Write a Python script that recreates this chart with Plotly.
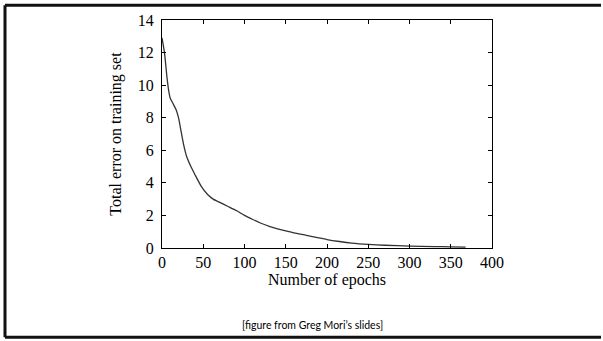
import plotly.graph_objects as go

epochs = [0, 3, 6, 8, 10, 13, 17, 20, 23, 26, 30, 35, 40, 48, 55, 62, 70, 80, 90,
          100, 110, 120, 130, 140, 150, 160, 175, 190, 200, 215, 230, 250, 270,
          300, 330, 350, 368]
error = [12.9, 12.0, 10.5, 9.7, 9.2, 8.9, 8.5, 8.0, 7.2, 6.4, 5.6, 5.0, 4.5, 3.75,
         3.3, 3.0, 2.8, 2.55, 2.3, 2.0, 1.75, 1.52, 1.33, 1.18, 1.05, 0.93, 0.78,
         0.62, 0.52, 0.40, 0.30, 0.22, 0.17, 0.12, 0.09, 0.07, 0.05]

x_ticks = [0, 50, 100, 150, 200, 250, 300, 350, 400]
y_ticks = [0, 2, 4, 6, 8, 10, 12, 14]

W, H = 603, 341
L, R, T, B = 162, 492, 17, 248.5

def px(x):
    return (x - L) / (R - L)

def py(y):
    return (B - y) / (B - T)

fig = go.Figure()
fig.add_trace(go.Scatter(x=epochs, y=error, mode="lines",
                         line=dict(color="#333333", width=1.3, shape="spline", smoothing=0.6),
                         showlegend=False, hoverinfo="skip"))

serif = "Liberation Serif"
axis_common = dict(showline=True, linecolor="black", linewidth=1, mirror="ticks",
                   ticks="inside", ticklen=4, tickcolor="black", tickwidth=1,
                   showgrid=False, zeroline=False,
                   tickfont=dict(family=serif, size=16, color="black"))

fig.update_layout(
    width=W, height=H,
    font=dict(family=serif, color="black"),
    margin=dict(l=L, r=W - R, t=T, b=H - B),
    paper_bgcolor="white", plot_bgcolor="white",
    xaxis=dict(range=[0, 400], tickvals=x_ticks, ticktext=[str(v) for v in x_ticks],
               title=dict(text="Number of epochs", font=dict(family=serif, size=16, color="black"),
                          standoff=0),
               **axis_common),
    yaxis=dict(range=[0, 14], tickvals=y_ticks, ticktext=[str(v) for v in y_ticks],
               ticklabelstandoff=4,
               title=dict(text="Total error on training set", font=dict(family=serif, size=16, color="black"),
                          standoff=12),
               **axis_common),
    annotations=[dict(text="[figure from Greg Mori\u2019s slides]", x=px(312), y=py(327),
                      xref="paper", yref="paper", showarrow=False, yanchor="middle",
                      font=dict(family="Lato", size=10.5, color="black"))],
    shapes=[
        dict(type="line", xref="paper", yref="paper", x0=px(5), x1=px(601), y0=py(2), y1=py(2),
             line=dict(color="#111111", width=3)),
        dict(type="line", xref="paper", yref="paper", x0=px(5), x1=px(601), y0=py(339), y1=py(339),
             line=dict(color="#111111", width=3)),
        dict(type="line", xref="paper", yref="paper", x0=px(5), x1=px(5), y0=py(2), y1=py(339),
             line=dict(color="#111111", width=3)),
    ],
)

fig.write_html("out.html", config={"displayModeBar": False})
